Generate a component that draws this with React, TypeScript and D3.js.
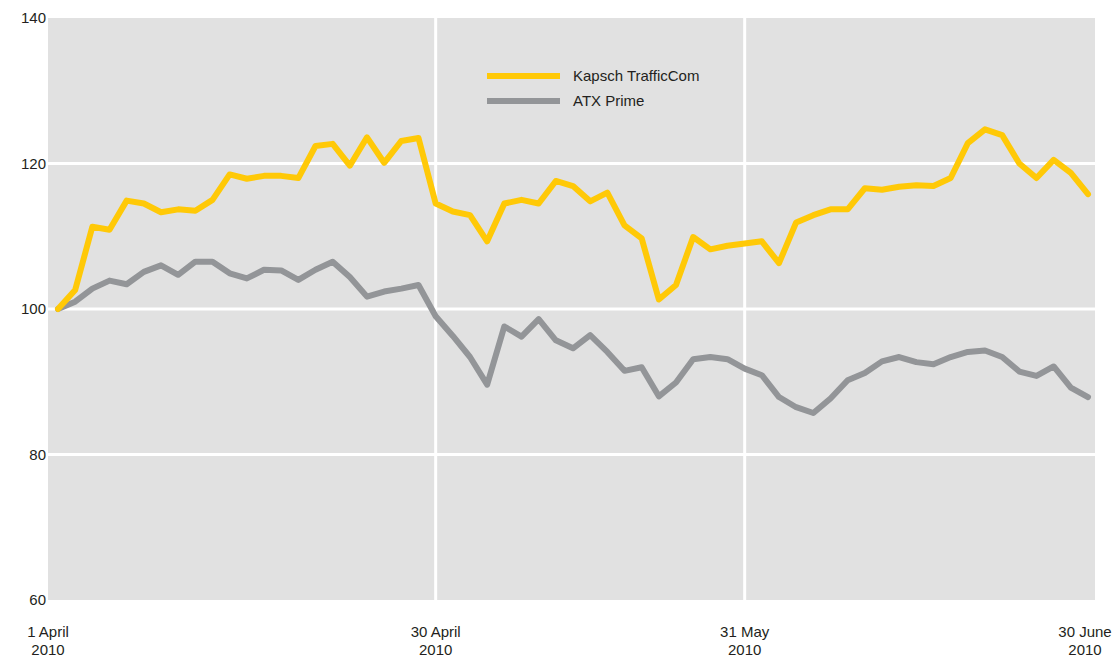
import React from "react";
import * as d3 from "d3";

const kapsch: number[] = [
  100, 102.6, 111.3, 110.9, 114.9, 114.5, 113.3, 113.7, 113.5, 115.0,
  118.5, 117.9, 118.3, 118.3, 118.0, 122.4, 122.7, 119.7, 123.6, 120.1,
  123.1, 123.5, 114.5, 113.4, 112.9, 109.3, 114.5, 115.0, 114.5, 117.6,
  116.9, 114.8, 116.0, 111.5, 109.7, 101.3, 103.3, 109.9, 108.2, 108.7,
  109.0, 109.3, 106.3, 111.9, 112.9, 113.7, 113.7, 116.6, 116.4, 116.8,
  117.0, 116.9, 118.0, 122.8, 124.7, 123.9, 120.0, 118.0, 120.5, 118.7,
  115.8,
];

const atx: number[] = [
  100, 101.0, 102.8, 103.9, 103.4, 105.1, 106.0, 104.7, 106.5, 106.5,
  104.9, 104.2, 105.4, 105.3, 104.0, 105.4, 106.5, 104.4, 101.7, 102.4,
  102.8, 103.3, 99.0, 96.3, 93.4, 89.6, 97.6, 96.2, 98.6, 95.7,
  94.6, 96.4, 94.1, 91.5, 92.0, 88.0, 89.9, 93.1, 93.4, 93.1,
  91.8, 90.9, 87.9, 86.5, 85.7, 87.7, 90.2, 91.2, 92.8, 93.4,
  92.7, 92.4, 93.4, 94.1, 94.3, 93.4, 91.4, 90.8, 92.1, 89.2,
  87.9,
];

const yTicks: number[] = [60, 80, 100, 120, 140];
const xTickIndex: number[] = [0, 22, 40, 60];
const xTickLabel: string[] = ["1 April", "30 April", "31 May", "30 June"];
const xTickYear: string[] = ["2010", "2010", "2010", "2010"];
const seriesNames: string[] = ["Kapsch TrafficCom", "ATX Prime"];
const seriesColors: string[] = ["#ffc907", "#939598"];

const W = 1112;
const H = 659;
const plotLeft = 48;
const plotRight = 1095;
const plotTop = 18;
const plotBottom = 600;

export default function App() {
  const x = d3.scaleLinear().domain([0, 60]).range([58, 1088]);
  const y = d3.scaleLinear().domain([60, 140]).range([plotBottom, plotTop]);
  const line = d3
    .line<number>()
    .x((_, i) => x(i))
    .y((d) => y(d));
  const font = "'Liberation Sans', Arial, Helvetica, sans-serif";
  const series = [kapsch, atx];
  const fs = 15;

  return (
    <svg
      width={W}
      height={H}
      style={{ position: "absolute", left: 0, top: 0, display: "block" }}
      fontFamily={font}
    >
      <rect x={0} y={0} width={W} height={H} fill="#ffffff" />
      <rect
        x={plotLeft}
        y={plotTop}
        width={plotRight - plotLeft}
        height={plotBottom - plotTop}
        fill="#e1e1e1"
      />
      {yTicks
        .filter((t) => t > 60 && t < 140)
        .map((t) => (
          <line
            key={"hg" + t}
            x1={plotLeft}
            x2={plotRight}
            y1={y(t)}
            y2={y(t)}
            stroke="#ffffff"
            strokeWidth={3}
          />
        ))}
      {xTickIndex
        .filter((i) => i > 0 && i < 60)
        .map((i) => (
          <line
            key={"vg" + i}
            x1={x(i)}
            x2={x(i)}
            y1={plotTop}
            y2={plotBottom}
            stroke="#ffffff"
            strokeWidth={3}
          />
        ))}
      {yTicks.map((t) => (
        <text
          key={"yl" + t}
          x={46}
          y={y(t)}
          dy="0.35em"
          textAnchor="end"
          fontSize={fs}
          fill="#231f20"
        >
          {t}
        </text>
      ))}
      {xTickIndex.map((i, k) => (
        <g key={"xl" + i}>
          <text
            x={x(i) + (k === 0 ? -10 : k === 3 ? -3 : 0)}
            y={637}
            textAnchor="middle"
            fontSize={fs}
            fill="#231f20"
          >
            {xTickLabel[k]}
          </text>
          <text
            x={x(i) + (k === 0 ? -10 : k === 3 ? -3 : 0)}
            y={655}
            textAnchor="middle"
            fontSize={fs}
            fill="#231f20"
          >
            {xTickYear[k]}
          </text>
        </g>
      ))}
      {series
        .slice()
        .reverse()
        .map((s, ri) => {
          const idx = series.length - 1 - ri;
          return (
            <path
              key={"s" + idx}
              d={line(s) || ""}
              fill="none"
              stroke={seriesColors[idx]}
              strokeWidth={6}
              strokeLinejoin="round"
              strokeLinecap="round"
            />
          );
        })}
      {seriesNames.map((n, k) => (
        <g key={"lg" + k}>
          <line
            x1={487}
            x2={560}
            y1={76 + k * 25}
            y2={76 + k * 25}
            stroke={seriesColors[k]}
            strokeWidth={6}
          />
          <text
            x={573}
            y={76 + k * 25}
            dy="0.35em"
            fontSize={fs}
            fill="#231f20"
          >
            {n}
          </text>
        </g>
      ))}
    </svg>
  );
}
